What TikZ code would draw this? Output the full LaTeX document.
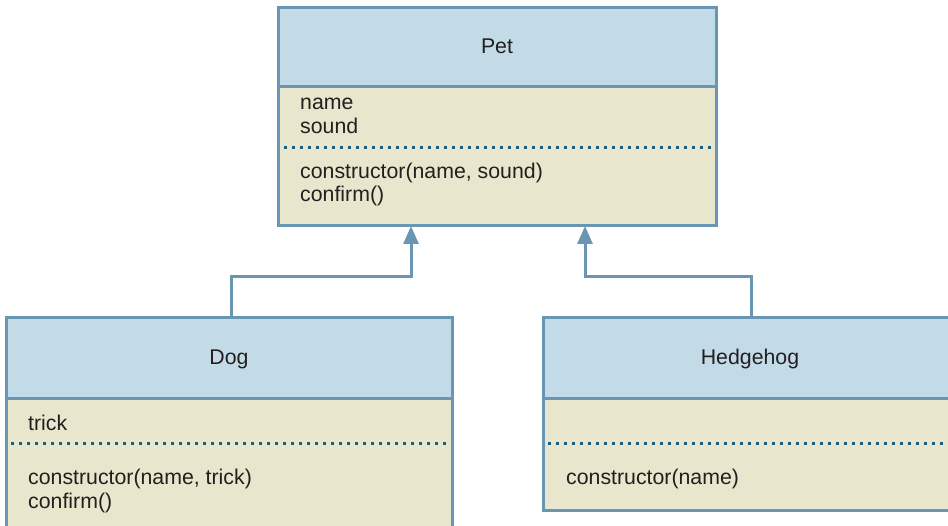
\documentclass[tikz,border=0pt]{standalone}
\usepackage{fontspec}
\setmainfont{Liberation Sans}
\usetikzlibrary{arrows.meta}
\definecolor{hdrblue}{HTML}{C3DAE7}
\definecolor{bodytan}{HTML}{E8E6CC}
\definecolor{edgeblue}{HTML}{6A96B4}
\definecolor{dotblue}{HTML}{1A5E80}
\definecolor{txt}{HTML}{231F20}
\tikzset{
  hdr/.style={draw=edgeblue, fill=hdrblue, line width=3pt, rectangle, anchor=north west, outer sep=0pt, inner sep=0pt},
  bdy/.style={draw=edgeblue, fill=bodytan, line width=3pt, rectangle, anchor=north west, outer sep=0pt, inner sep=0pt},
  ttl/.style={anchor=base, inner sep=0pt, text=txt, font=\fontsize{21.3}{24}\selectfont},
  lbl/.style={anchor=base west, inner sep=0pt, text=txt, font=\fontsize{21.3}{24}\selectfont},
  sep/.style={draw=dotblue, line width=3pt, dash pattern=on 3pt off 5pt},
  inh/.style={draw=edgeblue, line width=3pt, -{Triangle[length=18pt,width=15pt]}}
}
\begin{document}
\begin{tikzpicture}[x=1pt,y=-1pt]
\useasboundingbox (0,0) rectangle (948,526);
\clip (0,0) rectangle (948,526);
% Pet
\node[bdy, minimum width=438pt, minimum height=139pt] (petbody) at (278,87) {};
\node[hdr, minimum width=438pt, minimum height=79pt] (pethead) at (278,8) {};
\node[ttl] (pettitle) at (497,54) {Pet};
\node[lbl] (petname) at (300,110) {name};
\node[lbl] (petsound) at (300,134) {sound};
\coordinate (petsepl) at (284,147.5);
\coordinate (petsepr) at (712,147.5);
\draw[sep] (petsepl) -- (petsepr);
\node[lbl] (petctor) at (300,178.5) {constructor(name, sound)};
\node[lbl] (petconf) at (300,202) {confirm()};
% Dog
\node[bdy, minimum width=446pt, minimum height=140pt] (dogbody) at (6,399) {};
\node[hdr, minimum width=446pt, minimum height=81pt] (doghead) at (6,318) {};
\node[ttl] (dogtitle) at (229,365) {Dog};
\node[lbl] (dogtrick) at (28,431) {trick};
\coordinate (dogsepl) at (11,444);
\coordinate (dogsepr) at (448,444);
\draw[sep] (dogsepl) -- (dogsepr);
\node[lbl] (dogctor) at (28,484) {constructor(name, trick)};
\node[lbl] (dogconf) at (28,508) {confirm()};
% Hedgehog
\node[bdy, minimum width=414pt, minimum height=111pt] (hhbody) at (543,399) {};
\node[hdr, minimum width=414pt, minimum height=81pt] (hhhead) at (543,318) {};
\node[ttl] (hhtitle) at (750,365) {Hedgehog};
\coordinate (hhsepl) at (548,444);
\coordinate (hhsepr) at (950,444);
\draw[sep] (hhsepl) -- (hhsepr);
\node[lbl] (hhctor) at (566,484) {constructor(name)};
% connectors
\coordinate (jl) at (411,277);
\coordinate (jr) at (585,277);
\coordinate (dl) at (231,318);
\coordinate (hr) at (751,318);
\draw[inh] (dl) |- (jl) -- (jl |- petbody.south);
\draw[inh] (hr) |- (jr) -- (jr |- petbody.south);
\end{tikzpicture}
\end{document}
